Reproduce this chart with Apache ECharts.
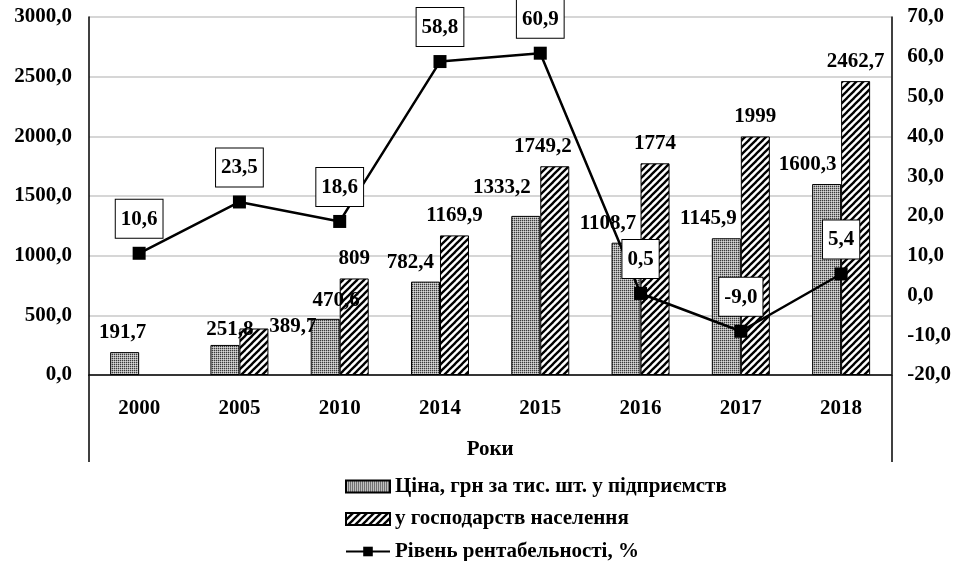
<!DOCTYPE html>
<html><head><meta charset="utf-8">
<script src="https://cdn.jsdelivr.net/npm/echarts@6/dist/echarts.min.js"></script>
<style>html,body{margin:0;padding:0;background:#fff}#c{width:954px;height:561px}</style>
</head><body><div id="c"></div><script>
// ---- data ----
const years = ['2000', '2005', '2010', '2014', '2015', '2016', '2017', '2018'];
const priceEnterprise = [191.7, 251.8, 470.6, 782.4, 1333.2, 1108.7, 1145.9, 1600.3];
const priceHouseholds = [null, 389.7, 809, 1169.9, 1749.2, 1774, 1999, 2462.7];
const profitability = [10.6, 23.5, 18.6, 58.8, 60.9, 0.5, -9.0, 5.4];
const seriesNames = ['Ціна, грн за тис. шт. у підприємств', 'у господарств населення', 'Рівень рентабельності, %'];
const axisName = 'Роки';

// label nudges (style only)
const entLabelShift = [[-2, 0], [5, 4], [11, 1], [-15, 0], [-24, -9], [-18, 0], [-18, 0], [-19, 0]];
const hhLabelShift = [[0, 0], [39, 18], [0, 0], [0, 0], [-12, 0], [0, 0], [0, 0], [0, 0]];

const FONT = "'Liberation Serif','Times New Roman',serif";
const FS = 21;
const comma = v => String(v).replace('.', ',');
const fix1 = v => Number(v).toFixed(1).replace('.', ',');

function hatchPattern() {
  const s = 7, c = document.createElement('canvas');
  c.width = s; c.height = s;
  const g = c.getContext('2d');
  g.fillStyle = '#fff'; g.fillRect(0, 0, s, s);
  g.strokeStyle = '#000'; g.lineWidth = 2.3;
  for (const o of [-s, 0, s]) {
    g.beginPath(); g.moveTo(o - 1, s + 1); g.lineTo(o + s + 1, -1); g.stroke();
  }
  return c;
}
function stipplePattern() {
  const c = document.createElement('canvas');
  c.width = 2; c.height = 2;
  const g = c.getContext('2d');
  g.fillStyle = '#a8a8a8'; g.fillRect(0, 0, 2, 2);
  g.fillStyle = '#3a3a3a'; g.fillRect(0, 0, 1, 1);
  g.fillStyle = '#d8d8d8'; g.fillRect(1, 1, 1, 1);
  return c;
}
const hatch = { image: hatchPattern(), repeat: 'repeat' };
const stipple = { image: stipplePattern(), repeat: 'repeat' };

const labelBase = { show: true, position: 'top', distance: 9, color: '#000', fontFamily: FONT, fontWeight: 'bold', fontSize: FS };

const chart = echarts.init(document.getElementById('c'));
chart.setOption({
  animation: false,
  backgroundColor: '#fff',
  grid: { left: 89, right: 62, top: 17, bottom: 186 },
  legend: {
    orient: 'vertical', left: 345, top: 476, height: 95, padding: 0, itemWidth: 44, itemHeight: 12, itemGap: 11.5,
    data: [
      { name: seriesNames[0], icon: 'rect' },
      { name: seriesNames[1], icon: 'rect' },
      { name: seriesNames[2] }
    ],
    textStyle: { fontFamily: FONT, fontWeight: 'bold', fontSize: FS, color: '#000' }
  },
  xAxis: {
    type: 'category', data: years,
    axisLine: { lineStyle: { color: '#000', width: 1.5 } },
    axisTick: { show: false },
    axisLabel: { fontFamily: FONT, fontWeight: 'bold', fontSize: FS, color: '#000', margin: 23 },
    name: axisName, nameLocation: 'middle', nameGap: 64,
    nameTextStyle: { fontFamily: FONT, fontWeight: 'bold', fontSize: FS, color: '#000' }
  },
  yAxis: [{
    type: 'value', min: 0, max: 3000, interval: 500,
    axisLine: { show: true, lineStyle: { color: '#000', width: 1.5 } },
    axisTick: { show: false },
    axisLabel: { formatter: fix1, fontFamily: FONT, fontWeight: 'bold', fontSize: FS, color: '#000', margin: 17 },
    splitLine: { lineStyle: { color: '#c8c8c8', width: 1.5 } }
  }, {
    type: 'value', min: -20, max: 70, interval: 10,
    axisLine: { show: true, lineStyle: { color: '#000', width: 1.5 } },
    axisTick: { show: false },
    axisLabel: { formatter: fix1, fontFamily: FONT, fontWeight: 'bold', fontSize: FS, color: '#000', margin: 16 },
    splitLine: { show: false }
  }],
  series: [{
    name: seriesNames[0], type: 'bar', barWidth: 29, barGap: '0%',
    itemStyle: { color: stipple, borderColor: '#000', borderWidth: 1 },
    data: priceEnterprise.map((v, i) => ({ value: v, label: { offset: entLabelShift[i] } })),
    label: Object.assign({}, labelBase, { formatter: p => comma(p.value) }),
    z: 2
  }, {
    name: seriesNames[1], type: 'bar', barWidth: 29, barGap: '0%',
    itemStyle: { color: hatch, borderColor: '#000', borderWidth: 1 },
    data: priceHouseholds.map((v, i) => ({ value: v, label: { offset: hhLabelShift[i] } })),
    label: Object.assign({}, labelBase, { formatter: p => comma(p.value) }),
    z: 2
  }, {
    name: seriesNames[2], type: 'line', yAxisIndex: 1,
    data: profitability,
    symbol: 'rect', symbolSize: 13,
    lineStyle: { color: '#000', width: 2.5 },
    itemStyle: { color: '#000' },
    label: {
      show: true, position: 'top', distance: 9, formatter: p => fix1(p.value),
      fontFamily: FONT, fontWeight: 'bold', fontSize: FS, color: '#000',
      backgroundColor: '#fff', borderColor: '#000', borderWidth: 1, padding: [9, 5, 8, 5]
    },
    z: 5
  }],
  graphic: [
    { type: 'line', shape: { x1: 89, y1: 375, x2: 89, y2: 462 }, style: { stroke: '#000', lineWidth: 1.5 } },
    { type: 'line', shape: { x1: 892, y1: 375, x2: 892, y2: 462 }, style: { stroke: '#000', lineWidth: 1.5 } }
  ]
});
</script></body></html>
